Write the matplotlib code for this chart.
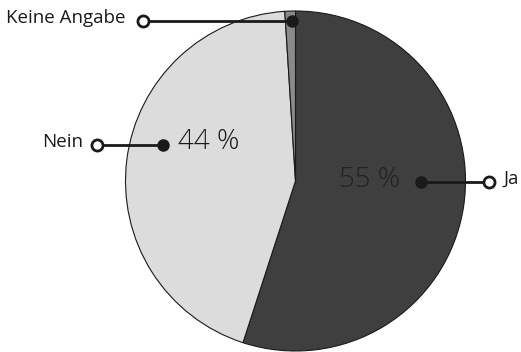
import matplotlib.pyplot as plt

categories = ["Ja", "Nein", "Keine Angabe"]
values = [55, 44, 1]
colors = ["#3f3f3f", "#dcdcdc", "#8a8a8a"]
pct_labels = ["55 %", "44 %", ""]

W, H = 521, 352
fig = plt.figure(figsize=(W / 100, H / 100), dpi=100)
ax = fig.add_axes([0, 0, 1, 1])

cx, cy, r = 295.5, H - 181, 170
wedges, _ = ax.pie(values, colors=colors, startangle=90, counterclock=False,
                   center=(cx, cy), radius=r, frame=True,
                   wedgeprops=dict(edgecolor="#1a1a1a", linewidth=0.8))
ax.set_xlim(0, W)
ax.set_ylim(0, H)
ax.set_aspect("equal")
ax.axis("off")


def callout(x_open, x_dot, y, label, ha, gap):
    y = H - y
    ax.plot([x_open, x_dot], [y, y], color="#1a1a1a", lw=2, zorder=5)
    ax.plot(x_dot, y, "o", ms=8, color="#1a1a1a", zorder=6)
    ax.plot(x_open, y, "o", ms=8, mfc="white", mec="#1a1a1a", mew=2, zorder=6)
    dx = -gap if ha == "right" else gap
    ax.text(x_open + dx, y + 3, label, ha=ha, va="center", fontsize=13.5,
            family="Open Sans", color="#1a1a1a", zorder=7)


callout(489, 421, 182, categories[0], "left", 15)
callout(97, 163, 145, categories[1], "right", 14)
callout(143, 292, 21, categories[2], "right", 17)

ax.text(339, H - 180, pct_labels[0], ha="left", va="center", fontsize=20,
        family="Open Sans", fontweight=300, color="#222222", zorder=7)
ax.text(178, H - 142, pct_labels[1], ha="left", va="center", fontsize=20,
        family="Open Sans", fontweight=300, color="#1a1a1a", zorder=7)

fig.savefig("out.png", dpi=100)
